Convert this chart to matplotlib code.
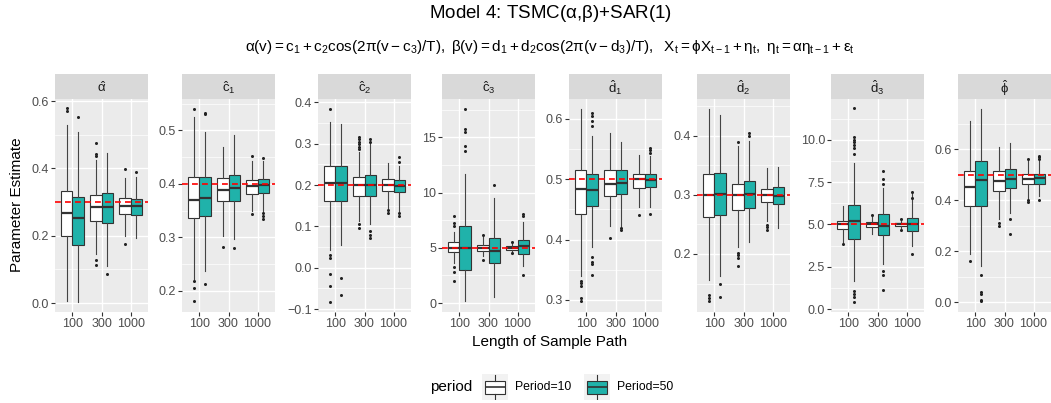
import matplotlib
matplotlib.use("Agg")
import matplotlib.pyplot as plt
import numpy as np

plt.rcParams['font.family'] = ['Liberation Sans', 'DejaVu Sans']
plt.rcParams['mathtext.fontset'] = 'custom'
plt.rcParams['mathtext.rm'] = 'Liberation Sans'
plt.rcParams['mathtext.it'] = 'Liberation Sans:italic'
plt.rcParams['mathtext.bf'] = 'Liberation Sans:bold'
plt.rcParams['mathtext.default'] = 'regular'

# ---- data: (whisker low, Q1, median, Q3, whisker high) per sample length ----
lengths = ["100", "300", "1000"]
periods = ["Period=10", "Period=50"]
params = [r"$\hat{\alpha}$", r"$\hat{c}_1$", r"$\hat{c}_2$", r"$\hat{c}_3$",
          r"$\hat{d}_1$", r"$\hat{d}_2$", r"$\hat{d}_3$", r"$\hat{\phi}$"]
true_values = [0.3, 0.4, 0.2, 5.0, 0.5, 0.3, 5.0, 0.5]

alpha_p10 = [(0.007, 0.198, 0.268, 0.332, 0.529), (0.145, 0.244, 0.284, 0.320, 0.426), (0.199, 0.263, 0.287, 0.311, 0.372)]
alpha_p10_out = [[0.578, 0.570], [0.475, 0.443, 0.437, 0.127, 0.113], [0.398, 0.176]]
alpha_p50 = [(0.004, 0.172, 0.253, 0.314, 0.509), (0.110, 0.239, 0.284, 0.327, 0.447), (0.194, 0.262, 0.288, 0.309, 0.375)]
alpha_p50_out = [[0.552], [0.085], [0.388]]

c1_p10 = [(0.222, 0.337, 0.370, 0.413, 0.526), (0.303, 0.368, 0.388, 0.411, 0.470), (0.349, 0.381, 0.396, 0.407, 0.442)]
c1_p10_out = [[0.541, 0.218, 0.205, 0.180], [0.281], [0.453, 0.343]]
c1_p50 = [(0.236, 0.340, 0.374, 0.412, 0.498), (0.296, 0.367, 0.393, 0.416, 0.492), (0.349, 0.383, 0.397, 0.409, 0.442)]
c1_p50_out = [[0.532, 0.530, 0.213], [0.279], [0.448, 0.345, 0.340, 0.335]]

c2_p10 = [(0.044, 0.161, 0.206, 0.245, 0.352), (0.113, 0.174, 0.199, 0.219, 0.280), (0.145, 0.185, 0.199, 0.215, 0.253)]
c2_p10_out = [[0.385, 0.031, 0.024, -0.016, -0.044, -0.082],
              [0.317, 0.312, 0.305, 0.298, 0.292, 0.287, 0.105, 0.097], [0.139, 0.133]]
c2_p50 = [(0.056, 0.161, 0.206, 0.245, 0.347), (0.105, 0.174, 0.201, 0.225, 0.301), (0.137, 0.183, 0.197, 0.211, 0.245)]
c2_p50_out = [[-0.025, -0.066], [0.312, 0.305, 0.088, 0.080, 0.073], [0.268, 0.255, 0.133, 0.126]]

c3_p10 = [(3.60, 4.60, 4.98, 5.49, 6.40), (4.29, 4.74, 4.98, 5.25, 5.95), (4.44, 4.83, 4.98, 5.19, 5.49)]
c3_p10_out = [[7.89, 7.23, 6.99, 3.25, 2.85, 1.98], [6.15, 3.90], [5.55, 4.50]]
c3_p50 = [(0.15, 3.03, 4.96, 7.00, 11.7), (0.55, 3.63, 4.74, 5.92, 9.55), (3.39, 4.42, 5.20, 5.68, 7.30)]
c3_p50_out = [[17.6, 15.8, 15.5, 14.2, 13.8], [10.65], [8.04, 7.89, 2.55]]

d1_p10 = [(0.340, 0.442, 0.484, 0.516, 0.616), (0.423, 0.472, 0.492, 0.515, 0.576), (0.454, 0.486, 0.501, 0.508, 0.541)]
d1_p10_out = [[0.332, 0.328, 0.323, 0.303, 0.299], [0.402], [0.440]]
d1_p50 = [(0.387, 0.455, 0.483, 0.508, 0.571), (0.423, 0.476, 0.494, 0.515, 0.562), (0.454, 0.487, 0.499, 0.509, 0.539)]
d1_p50_out = [[0.609, 0.604, 0.597, 0.588, 0.371, 0.363, 0.359, 0.341], [0.420, 0.416], [0.552, 0.548, 0.544, 0.443]]

d2_p10 = [(0.156, 0.263, 0.300, 0.335, 0.445), (0.211, 0.274, 0.299, 0.319, 0.382), (0.256, 0.287, 0.299, 0.310, 0.345)]
d2_p10_out = [[0.130, 0.126, 0.121], [0.389, 0.201, 0.198, 0.194, 0.179], [0.249, 0.245, 0.240]]
d2_p50 = [(0.163, 0.265, 0.302, 0.337, 0.435), (0.221, 0.277, 0.302, 0.324, 0.390), (0.244, 0.285, 0.298, 0.313, 0.347)]
d2_p50_out = [[0.150, 0.127], [0.404, 0.400], []]

d3_p10 = [(3.93, 4.71, 5.00, 5.20, 6.08), (4.41, 4.86, 5.00, 5.14, 5.49), (4.71, 4.90, 5.00, 5.10, 5.29)]
d3_p10_out = [[3.87], [5.55], [5.33, 4.65]]
d3_p50 = [(1.67, 4.16, 5.20, 6.12, 8.63), (2.65, 4.35, 4.90, 5.59, 7.16), (3.73, 4.61, 5.00, 5.40, 6.87)]
d3_p50_out = [[11.86, 10.16, 10.00, 9.84, 9.71, 9.51, 9.18, 1.08, 0.89, 0.69, 0.43],
              [8.14, 7.69, 7.41, 2.26, 2.02, 1.14], [6.90, 6.57, 3.24]]

phi_p10 = [(0.188, 0.376, 0.450, 0.515, 0.711), (0.327, 0.435, 0.474, 0.514, 0.610), (0.409, 0.464, 0.483, 0.503, 0.552)]
phi_p10_out = [[0.162], [0.309, 0.298], [0.563, 0.400, 0.392]]
phi_p50 = [(0.143, 0.376, 0.480, 0.552, 0.757), (0.351, 0.448, 0.484, 0.522, 0.623), (0.415, 0.465, 0.487, 0.504, 0.552)]
phi_p50_out = [[0.106, 0.039, 0.032, 0.010, 0.004], [0.327, 0.266], [0.574, 0.567, 0.561, 0.402]]

y_ticks = [[0.0, 0.2, 0.4, 0.6], [0.2, 0.3, 0.4, 0.5], [-0.1, 0.0, 0.1, 0.2, 0.3, 0.4], [0, 5, 10, 15],
           [0.3, 0.4, 0.5, 0.6], [0.2, 0.3, 0.4], [0.0, 2.5, 5.0, 7.5, 10.0], [0.0, 0.2, 0.4, 0.6]]
y_fmt = ["{:.1f}", "{:.1f}", "{:.1f}", "{:.0f}", "{:.1f}", "{:.1f}", "{:.1f}", "{:.1f}"]
y_limits = [(-0.0266, 0.606), (0.160, 0.559), (-0.107, 0.408), (-0.81, 18.48),
            (0.280, 0.633), (0.102, 0.4617), (-0.176, 12.41), (-0.038, 0.796)]

series = [
    (alpha_p10, alpha_p10_out, alpha_p50, alpha_p50_out),
    (c1_p10, c1_p10_out, c1_p50, c1_p50_out),
    (c2_p10, c2_p10_out, c2_p50, c2_p50_out),
    (c3_p10, c3_p10_out, c3_p50, c3_p50_out),
    (d1_p10, d1_p10_out, d1_p50, d1_p50_out),
    (d2_p10, d2_p10_out, d2_p50, d2_p50_out),
    (d3_p10, d3_p10_out, d3_p50, d3_p50_out),
    (phi_p10, phi_p10_out, phi_p50, phi_p50_out),
]

# ---- layout (pixels) ----
W, H = 1051, 403
fig = plt.figure(figsize=(W / 100, H / 100), dpi=100)
panel_left = [55, 182, 318, 442, 569, 697, 831, 958]
panel_w = 93
strip_top, panel_top, panel_bot = 74, 99, 312

def frect(x0, y0, x1, y1):
    return [x0 / W, 1 - y1 / H, (x1 - x0) / W, (y1 - y0) / H]

FILLS = ["white", "#20B2AA"]
EDGE = "#333333"
BOX_W = 0.39
OFFS = [-0.195, 0.195]

def stats_list(summary, outliers):
    out = []
    for (lo, q1, med, q3, hi), fl in zip(summary, outliers):
        out.append(dict(whislo=lo, q1=q1, med=med, q3=q3, whishi=hi, fliers=np.array(fl)))
    return out

for k in range(8):
    x0 = panel_left[k]
    ax = fig.add_axes(frect(x0, panel_top, x0 + panel_w, panel_bot))
    ax.set_facecolor("#EBEBEB")
    for s in ax.spines.values():
        s.set_visible(False)
    ax.set_xlim(-0.6, 2.6)
    ax.set_ylim(*y_limits[k])

    ticks = y_ticks[k]
    ax.set_yticks(ticks)
    ax.set_yticklabels([y_fmt[k].format(t).replace("-", "\u2212") for t in ticks])
    step = ticks[1] - ticks[0]
    lo_lim, hi_lim = y_limits[k]
    minors = [t + step / 2 for t in [ticks[0] - step] + ticks]
    minors = [m for m in minors if lo_lim < m < hi_lim]
    ax.set_yticks(minors, minor=True)
    ax.set_xticks(range(3))
    ax.set_xticklabels(lengths)
    ax.tick_params(axis="both", which="major", length=2.8, width=0.8, color="#333333",
                   labelcolor="#4D4D4D", labelsize=9, pad=1.5)
    ax.tick_params(axis="y", which="minor", length=0)
    ax.grid(True, which="major", color="white", lw=1.0)
    ax.grid(True, which="minor", axis="y", color="white", lw=0.5)
    ax.set_axisbelow(True)

    p10, p10o, p50, p50o = series[k]
    for j, (summ, outs) in enumerate([(p10, p10o), (p50, p50o)]):
        ax.bxp(stats_list(summ, outs), positions=np.arange(3) + OFFS[j], widths=BOX_W,
               patch_artist=True, showcaps=False, manage_ticks=False,
               boxprops=dict(facecolor=FILLS[j], edgecolor=EDGE, lw=0.8),
               medianprops=dict(color=EDGE, lw=1.6),
               whiskerprops=dict(color="#444444", lw=0.8),
               flierprops=dict(marker="o", markersize=2.2, markerfacecolor="#222222",
                               markeredgecolor="none"))
    ax.axhline(true_values[k], color="red", lw=1.2, ls=(0, (3.5, 2.5)), zorder=5)

    sax = fig.add_axes(frect(x0, strip_top, x0 + panel_w, panel_top))
    sax.set_facecolor("#D9D9D9")
    sax.set_xticks([]); sax.set_yticks([])
    for s in sax.spines.values():
        s.set_visible(False)
    sax.text(0.5, 0.45, params[k], ha="center", va="center", fontsize=9.5, color="#1A1A1A",
             transform=sax.transAxes)

# ---- titles and axis labels ----
fig.text(550 / W, 1 - 13 / H, r"Model 4: TSMC$(\alpha{,}\beta)$+SAR$(1)$", ha="center", va="center",
         fontsize=13.5, color="black")
subtitle = (r"$\alpha(v) = c_1 + c_2\mathrm{cos}(2\pi(v - c_3)/T),\ \beta(v) = d_1 + d_2\mathrm{cos}(2\pi(v - d_3)/T),"
            r"\ \ X_t = \phi X_{t-1} + \eta_t,\ \eta_t = \alpha\eta_{t-1} + \varepsilon_t$")
fig.text(550 / W, 1 - 47 / H, subtitle, ha="center", va="center", fontsize=11, color="black")
fig.text(550 / W, 1 - 342 / H, "Length of Sample Path", ha="center", va="center", fontsize=11)
fig.text(17 / W, 1 - 205 / H, "Parameter Estimate", ha="center", va="center", rotation=90, fontsize=11)

# ---- legend ----
fig.text(430 / W, 1 - 387 / H, "period", ha="left", va="center", fontsize=11)
key_x = [482, 584]
for j in range(2):
    kx = key_x[j]
    kax = fig.add_axes(frect(kx, 374, kx + 26, 400))
    kax.set_facecolor("#F2F2F2")
    kax.set_xlim(0, 1); kax.set_ylim(0, 1)
    kax.set_xticks([]); kax.set_yticks([])
    for s in kax.spines.values():
        s.set_visible(False)
    kax.bxp([dict(whislo=0.05, q1=0.25, med=0.5, q3=0.75, whishi=0.95, fliers=[])],
            positions=[0.5], widths=0.75, patch_artist=True, showcaps=False, manage_ticks=False,
            boxprops=dict(facecolor=FILLS[j], edgecolor=EDGE, lw=0.8),
            medianprops=dict(color=EDGE, lw=1.2), whiskerprops=dict(color=EDGE, lw=0.8))
    fig.text((kx + 33) / W, 1 - 387 / H, periods[j], ha="left", va="center", fontsize=8.8)

fig.savefig("out.png", dpi=100)
